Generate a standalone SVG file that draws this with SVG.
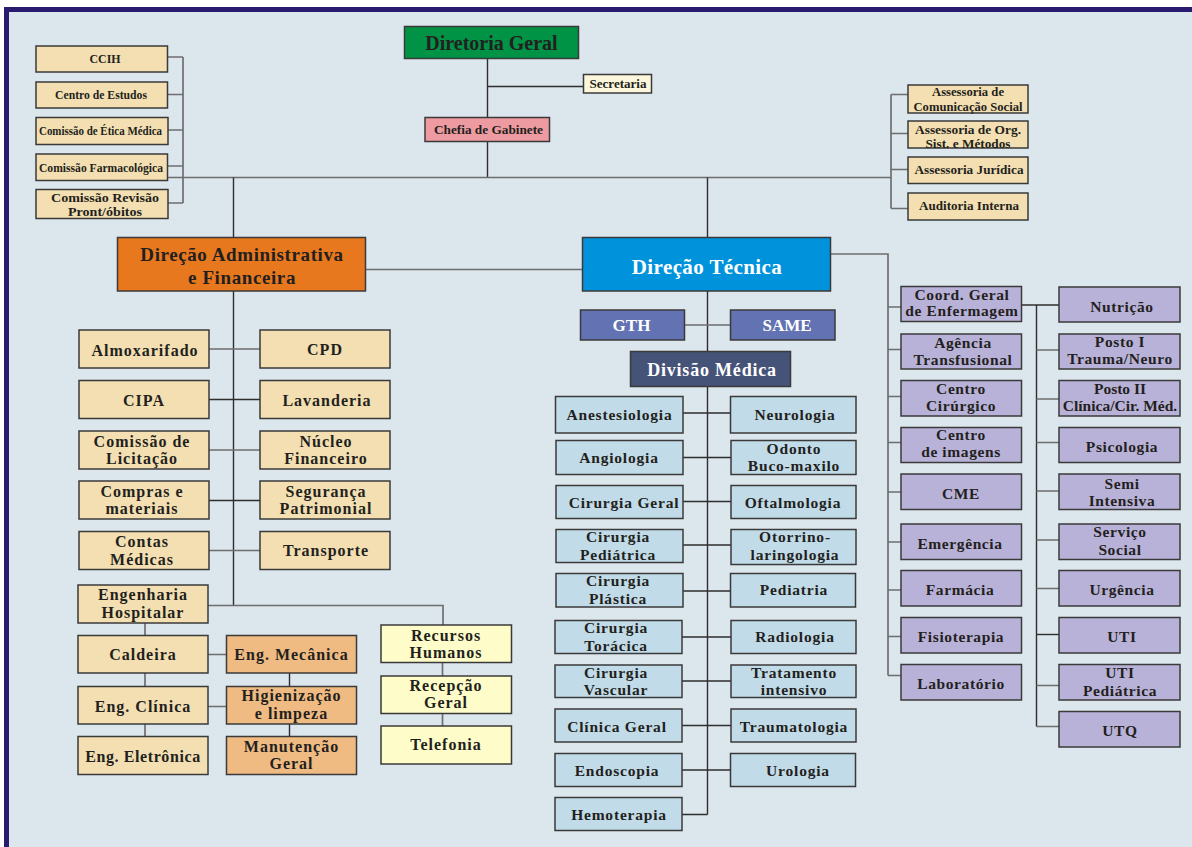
<svg xmlns="http://www.w3.org/2000/svg" width="1192" height="847" viewBox="0 0 1192 847">
<style>
text{font-family:"Liberation Serif","Times New Roman",serif;font-weight:bold;fill:#231f20;text-anchor:middle}
.w{fill:#ffffff}
.f11{font-size:13px}.f12{font-size:13px}.f125{font-size:13px}.f13{font-size:13px}
.f16{font-size:16px;letter-spacing:1px}.f155{font-size:15.5px;letter-spacing:0.8px}.fp{font-size:15.5px;letter-spacing:0.6px}
.big{font-size:19px;letter-spacing:0.6px}.dt{font-size:21px;letter-spacing:0.4px}.dg{font-size:20px}
.gs{font-size:17px}.dm{font-size:18px;letter-spacing:0.8px}
rect.b{stroke:#3a3a3a;stroke-width:1.5}
.tan{fill:#f3dfb1}.blu{fill:#c1dbe8}.pur{fill:#b9b2d8}.org{fill:#f0bb82}.yel{fill:#fefcc8}
.c{fill:none;stroke:#2e2e2e;stroke-width:1.4}
.g{fill:none;stroke:#6e6e6e;stroke-width:1.7}
</style>
<rect width="1192" height="847" fill="#ffffff"/>
<rect x="4" y="7" width="1200" height="860" fill="#2b1b6e"/>
<rect x="9" y="12" width="1190" height="850" fill="#dce6ed"/>

<g id="connectors">
<path class="c" d="M487.5 59V117M487.5 86.5H583.5M487.5 141.5V177.5"/>
<path class="g" d="M167 177.5H891"/>
<path class="g" d="M183 57V203M167 57H183M167 94.5H183M168 130H183M167 166H183M168 203H183"/>
<path class="g" d="M891 94.5V208.5M891 94.5H908M891 133.5H908M891 169.5H908M891 208.5H908"/>
<path class="c" d="M233.5 177.5V237.5M707.5 177.5V237.5"/>
<path class="g" d="M366 269.5H582.5"/>
<path class="c" d="M233.5 291V605.5"/>
<path class="g" d="M209 349H260M209 450H260M209 550.5H260"/>
<path class="c" d="M209 399.5H260M209 500.5H260"/>
<path class="g" d="M208 605.5H443V625"/>
<path class="g" d="M145 623V635.5M145 673V686.5M145 724V736.5M208 654.5H226.5M208 706.5H226.5M442.5 662.5V676M442.5 713.5V726"/>
<path class="c" d="M289.5 673V686.5M289.5 724V736.5"/>
<path class="g" d="M830.5 254H888V675.5"/>
<path class="c" d="M707.5 291V814.5"/>
<path class="g" d="M685 325H730.5"/>
<path class="c" d="M683 413H730.5M683 457.5H731M683 501.5H731M683 545H731M683 591H730.5M682 637H731M682 681H731M682 725.5H731M682 770H730.5M682 814.5H707.5"/>
<path class="g" d="M888 307H901M888 349.5H901M888 396.5H901M888 442.5H901M888 492H901M888 542H901M888 590H901M888 636.5H901M888 675.5H901"/>
<path class="c" d="M1021.5 305H1059M1036.5 305V726.5"/>
<path class="g" d="M1036.5 350H1059M1036.5 399H1059M1036.5 442.5H1059M1036.5 491H1059M1036.5 540H1059M1036.5 588.5H1059M1036.5 685.5H1059M1036.5 726.5H1059"/>
<path class="c" d="M1036.5 634.5H1059"/>
</g>

<g id="ccih"><rect class="b tan" x="36" y="46" width="131.5" height="26"/><text class="f12" x="105" y="63" textLength="31" lengthAdjust="spacingAndGlyphs">CCIH</text></g>
<g id="centro-estudos"><rect class="b tan" x="36" y="82" width="131.5" height="26"/><text class="f11" x="101" y="99" textLength="92" lengthAdjust="spacingAndGlyphs">Centro de Estudos</text></g>
<g id="etica"><rect class="b tan" x="36" y="117.5" width="132" height="27"/><text class="f11" x="100.5" y="135" textLength="123" lengthAdjust="spacingAndGlyphs">Comissão de Ética Médica</text></g>
<g id="farmaco"><rect class="b tan" x="36" y="154" width="131.5" height="26.5"/><text class="f11" x="101" y="172" textLength="124" lengthAdjust="spacingAndGlyphs">Comissão Farmacológica</text></g>
<g id="revisao"><rect class="b tan" x="36" y="189.5" width="132" height="29"/><text class="f125"><tspan x="105" y="201.5" textLength="108" lengthAdjust="spacingAndGlyphs">Comissão Revisão</tspan><tspan x="105" y="215.5" textLength="74" lengthAdjust="spacingAndGlyphs">Pront/óbitos</tspan></text></g>

<g id="diretoria"><rect class="b" fill="#009245" x="404.5" y="26.5" width="174" height="32"/><text class="dg" x="491.5" y="49.5">Diretoria Geral</text></g>
<g id="secretaria"><rect class="b" fill="#fcf7dc" x="583.5" y="74.5" width="68" height="18.5"/><text class="f13" x="618" y="88" textLength="57" lengthAdjust="spacingAndGlyphs">Secretaria</text></g>
<g id="chefia"><rect class="b" fill="#ee9aa1" x="425" y="117.5" width="124.5" height="24"/><text class="f13" x="488.5" y="134" textLength="109" lengthAdjust="spacingAndGlyphs">Chefia de Gabinete</text></g>

<g id="ass-com"><rect class="b tan" x="908" y="85" width="120" height="28"/><text class="f13"><tspan x="968" y="95.5" textLength="72" lengthAdjust="spacingAndGlyphs">Assessoria de</tspan><tspan x="968" y="110.5" textLength="109" lengthAdjust="spacingAndGlyphs">Comunicação Social</tspan></text></g>
<g id="ass-org"><rect class="b tan" x="908" y="121" width="120" height="27"/><text class="f13"><tspan x="968" y="133.5" textLength="106" lengthAdjust="spacingAndGlyphs">Assessoria de Org.</tspan><tspan x="968" y="148" textLength="85" lengthAdjust="spacingAndGlyphs">Sist. e Métodos</tspan></text></g>
<g id="ass-jur"><rect class="b tan" x="908" y="157" width="120" height="26.5"/><text class="f13" x="969" y="174" textLength="109" lengthAdjust="spacingAndGlyphs">Assessoria Jurídica</text></g>
<g id="auditoria"><rect class="b tan" x="908" y="193" width="120" height="27"/><text class="f13" x="969" y="210" textLength="100" lengthAdjust="spacingAndGlyphs">Auditoria Interna</text></g>

<g id="dir-adm"><rect class="b" fill="#e8781e" x="117.5" y="237.5" width="248" height="53.5"/><text class="big"><tspan x="242" y="261">Direção Administrativa</tspan><tspan x="242" y="284">e Financeira</tspan></text></g>
<g id="dir-tec"><rect class="b" fill="#0093dc" x="582.5" y="237.5" width="248" height="53.5"/><text class="dt w" x="707" y="273.5">Direção Técnica</text></g>

<g id="almox"><rect class="b tan" x="79" y="330" width="130" height="38"/><text class="f16" x="145" y="356">Almoxarifado</text></g>
<g id="cpd"><rect class="b tan" x="260" y="330" width="130" height="38"/><text class="f16" x="325" y="355">CPD</text></g>
<g id="cipa"><rect class="b tan" x="79" y="380.5" width="130" height="38"/><text class="f16" x="144" y="406">CIPA</text></g>
<g id="lavanderia"><rect class="b tan" x="260" y="380.5" width="130" height="38"/><text class="f16" x="327" y="406">Lavanderia</text></g>
<g id="licitacao"><rect class="b tan" x="79" y="431" width="130" height="38"/><text class="f16"><tspan x="142" y="446.5">Comissão de</tspan><tspan x="142" y="464">Licitação</tspan></text></g>
<g id="nucleo"><rect class="b tan" x="260" y="431" width="130" height="38"/><text class="f16"><tspan x="326" y="446.5">Núcleo</tspan><tspan x="326" y="464">Financeiro</tspan></text></g>
<g id="compras"><rect class="b tan" x="79" y="481" width="130" height="38"/><text class="f16"><tspan x="142" y="496.5">Compras e</tspan><tspan x="142" y="514">materiais</tspan></text></g>
<g id="seguranca"><rect class="b tan" x="260" y="481" width="130" height="38"/><text class="f16"><tspan x="326" y="496.5">Segurança</tspan><tspan x="326" y="514">Patrimonial</tspan></text></g>
<g id="contas"><rect class="b tan" x="79" y="531.5" width="130" height="38"/><text class="f16"><tspan x="142" y="547">Contas</tspan><tspan x="142" y="564.5">Médicas</tspan></text></g>
<g id="transporte"><rect class="b tan" x="260" y="531.5" width="130" height="38"/><text class="f16" x="326" y="556">Transporte</text></g>

<g id="eng-hosp"><rect class="b tan" x="78" y="585" width="130" height="38"/><text class="f16"><tspan x="143" y="600">Engenharia</tspan><tspan x="143" y="617.5">Hospitalar</tspan></text></g>
<g id="caldeira"><rect class="b tan" x="78" y="635.5" width="130" height="37.5"/><text class="f16" x="143" y="660">Caldeira</text></g>
<g id="eng-clin"><rect class="b tan" x="78" y="686.5" width="130" height="37.5"/><text class="f16" x="143" y="711.5">Eng. Clínica</text></g>
<g id="eng-elet"><rect class="b tan" x="78" y="736.5" width="130" height="38"/><text class="f16" style="letter-spacing:0.6px" x="143" y="762">Eng. Eletrônica</text></g>
<g id="eng-mec"><rect class="b org" x="226.5" y="635.5" width="130" height="37.5"/><text class="f16" x="291.5" y="660">Eng. Mecânica</text></g>
<g id="higien"><rect class="b org" x="226.5" y="686.5" width="130" height="37.5"/><text class="f16"><tspan x="291.5" y="701">Higienização</tspan><tspan x="291.5" y="718.5">e limpeza</tspan></text></g>
<g id="manut"><rect class="b org" x="226.5" y="736.5" width="130" height="38"/><text class="f16"><tspan x="291.5" y="751.5">Manutenção</tspan><tspan x="291.5" y="769">Geral</tspan></text></g>
<g id="rh"><rect class="b yel" x="381" y="625" width="130.5" height="37.5"/><text class="f16"><tspan x="446" y="640.5">Recursos</tspan><tspan x="446" y="658">Humanos</tspan></text></g>
<g id="recepcao"><rect class="b yel" x="381" y="676" width="130.5" height="37.5"/><text class="f16"><tspan x="446" y="690.5">Recepção</tspan><tspan x="446" y="708">Geral</tspan></text></g>
<g id="telefonia"><rect class="b yel" x="381" y="726" width="130.5" height="38"/><text class="f16" x="446" y="750">Telefonia</text></g>

<g id="gth"><rect class="b" fill="#6272b2" x="580.5" y="310" width="104" height="30"/><text class="gs w" x="631.5" y="331">GTH</text></g>
<g id="same"><rect class="b" fill="#6272b2" x="730.5" y="310" width="104.5" height="30"/><text class="gs w" x="787" y="331">SAME</text></g>
<g id="div-med"><rect class="b" fill="#465378" x="630.5" y="351.5" width="160" height="35"/><text class="dm w" x="712" y="375.5">Divisão Médica</text></g>

<g id="anest"><rect class="b blu" x="555.5" y="396.5" width="127.5" height="36.5"/><text class="f155" x="619.5" y="419.5">Anestesiologia</text></g>
<g id="neuro"><rect class="b blu" x="730.5" y="396.5" width="125.5" height="36.5"/><text class="f155" x="795" y="419.5">Neurologia</text></g>
<g id="angio"><rect class="b blu" x="556" y="440.5" width="127" height="34"/><text class="f155" x="619" y="462.5">Angiologia</text></g>
<g id="odonto"><rect class="b blu" x="731" y="440.5" width="125" height="34"/><text class="f155"><tspan x="794" y="453.5">Odonto</tspan><tspan x="794" y="471">Buco-maxilo</tspan></text></g>
<g id="cir-geral"><rect class="b blu" x="556" y="485.5" width="127" height="33"/><text class="f155" x="624" y="507.5">Cirurgia Geral</text></g>
<g id="oftalmo"><rect class="b blu" x="731" y="485.5" width="125" height="33"/><text class="f155" x="793" y="507.5">Oftalmologia</text></g>
<g id="cir-ped"><rect class="b blu" x="556" y="529.5" width="127" height="33"/><text class="f155"><tspan x="618" y="542">Cirurgia</tspan><tspan x="618" y="559.5">Pediátrica</tspan></text></g>
<g id="otorrino"><rect class="b blu" x="731" y="529.5" width="125" height="35"/><text class="f155"><tspan x="795" y="542">Otorrino-</tspan><tspan x="795" y="559.5">laringologia</tspan></text></g>
<g id="cir-plast"><rect class="b blu" x="556" y="573.5" width="127" height="33.5"/><text class="f155"><tspan x="618" y="586">Cirurgia</tspan><tspan x="618" y="603.5">Plástica</tspan></text></g>
<g id="pediatria"><rect class="b blu" x="730.5" y="573.5" width="125" height="33.5"/><text class="f155" x="794" y="595">Pediatria</text></g>
<g id="cir-torac"><rect class="b blu" x="555" y="620.5" width="127" height="33"/><text class="f155"><tspan x="616" y="632.5">Cirurgia</tspan><tspan x="616" y="650.5">Torácica</tspan></text></g>
<g id="radio"><rect class="b blu" x="731" y="620.5" width="125" height="33"/><text class="f155" x="795" y="642">Radiologia</text></g>
<g id="cir-vasc"><rect class="b blu" x="555" y="665" width="127" height="32.5"/><text class="f155"><tspan x="616" y="677.5">Cirurgia</tspan><tspan x="616" y="695">Vascular</tspan></text></g>
<g id="tratamento"><rect class="b blu" x="731" y="665" width="125" height="32.5"/><text class="f155"><tspan x="794" y="677.5">Tratamento</tspan><tspan x="794" y="695">intensivo</tspan></text></g>
<g id="clin-geral"><rect class="b blu" x="555" y="709" width="127" height="33"/><text class="f155" x="617" y="731.5">Clínica Geral</text></g>
<g id="trauma"><rect class="b blu" x="731" y="709" width="125" height="33"/><text class="f155" x="794" y="731.5">Traumatologia</text></g>
<g id="endo"><rect class="b blu" x="555" y="753.5" width="127" height="33"/><text class="f155" x="617" y="776">Endoscopia</text></g>
<g id="uro"><rect class="b blu" x="730.5" y="753.5" width="125" height="33"/><text class="f155" x="798" y="776">Urologia</text></g>
<g id="hemo"><rect class="b blu" x="555" y="797.5" width="127" height="33"/><text class="f155" x="619" y="819.5">Hemoterapia</text></g>

<g id="coord-enf"><rect class="b pur" x="901" y="286.5" width="120.5" height="35"/><text class="fp"><tspan x="962" y="300">Coord. Geral</tspan><tspan x="962" y="316">de Enfermagem</tspan></text></g>
<g id="agencia"><rect class="b pur" x="901" y="334" width="120.5" height="35"/><text class="fp"><tspan x="963" y="347.5">Agência</tspan><tspan x="963" y="364.5">Transfusional</tspan></text></g>
<g id="centro-cir"><rect class="b pur" x="901" y="380.5" width="120.5" height="35.5"/><text class="fp"><tspan x="961" y="394">Centro</tspan><tspan x="961" y="411">Cirúrgico</tspan></text></g>
<g id="centro-img"><rect class="b pur" x="901" y="427.5" width="120.5" height="35"/><text class="fp"><tspan x="961" y="440">Centro</tspan><tspan x="961" y="457">de imagens</tspan></text></g>
<g id="cme"><rect class="b pur" x="901" y="474" width="120.5" height="35.5"/><text class="fp" x="961" y="499">CME</text></g>
<g id="emergencia"><rect class="b pur" x="901" y="524" width="120.5" height="35.5"/><text class="fp" x="960" y="548.5">Emergência</text></g>
<g id="farmacia"><rect class="b pur" x="901" y="570.5" width="120.5" height="35.5"/><text class="fp" x="960" y="595">Farmácia</text></g>
<g id="fisio"><rect class="b pur" x="901" y="617.5" width="120.5" height="35.5"/><text class="fp" x="961" y="642">Fisioterapia</text></g>
<g id="lab"><rect class="b pur" x="901" y="664.5" width="120.5" height="35.5"/><text class="fp" x="961" y="688.5">Laboratório</text></g>

<g id="nutricao"><rect class="b pur" x="1059" y="287" width="121" height="35"/><text class="fp" x="1122" y="312">Nutrição</text></g>
<g id="posto1"><rect class="b pur" x="1059" y="334" width="121" height="35"/><text class="fp"><tspan x="1120" y="347">Posto I</tspan><tspan x="1120" y="364">Trauma/Neuro</tspan></text></g>
<g id="posto2"><rect class="b pur" x="1059" y="380.5" width="121" height="35.5"/><text class="fp" style="letter-spacing:0"><tspan x="1120" y="393.5">Posto II</tspan><tspan x="1120" y="411">Clínica/Cir. Méd.</tspan></text></g>
<g id="psico"><rect class="b pur" x="1059" y="427.5" width="121" height="35"/><text class="fp" x="1122" y="451.5">Psicologia</text></g>
<g id="semi"><rect class="b pur" x="1059" y="474" width="121" height="35.5"/><text class="fp"><tspan x="1122" y="488.5">Semi</tspan><tspan x="1122" y="506">Intensiva</tspan></text></g>
<g id="servico"><rect class="b pur" x="1059" y="524" width="121" height="35.5"/><text class="fp"><tspan x="1120" y="537">Serviço</tspan><tspan x="1120" y="554.5">Social</tspan></text></g>
<g id="urgencia"><rect class="b pur" x="1059" y="570.5" width="121" height="35.5"/><text class="fp" x="1122" y="595">Urgência</text></g>
<g id="uti"><rect class="b pur" x="1059" y="617.5" width="121" height="35.5"/><text class="fp" x="1122" y="642">UTI</text></g>
<g id="uti-ped"><rect class="b pur" x="1059" y="664.5" width="121" height="35.5"/><text class="fp"><tspan x="1120" y="677.5">UTI</tspan><tspan x="1120" y="696">Pediátrica</tspan></text></g>
<g id="utq"><rect class="b pur" x="1059" y="711.5" width="121" height="35.5"/><text class="fp" x="1120" y="735.5">UTQ</text></g>
</svg>
